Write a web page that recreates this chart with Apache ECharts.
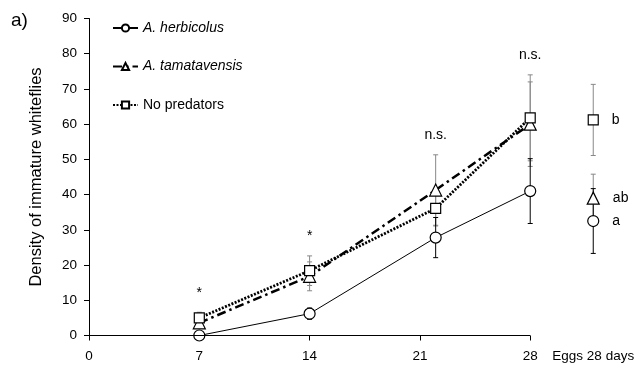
<!DOCTYPE html>
<html>
<head>
<meta charset="utf-8">
<script src="https://cdn.jsdelivr.net/npm/echarts@6/dist/echarts.min.js"></script>
<style>
  html, body { margin: 0; padding: 0; background: #fff; }
  #chart { width: 643px; height: 372px; }
</style>
</head>
<body>
<div id="chart"></div>
<script>
// ---- data ----
const days = [7, 14, 22, 28]
const xTicks = [0, 7, 14, 21, 28]
const totalX = 32
const totalLabel = 'Eggs 28 days'

const herbName = 'A. herbicolus'
const herbMean = [0, 6.2, 27.8, 41.0]
const herbErr = [0, 1.6, 5.7, 9.2]
const herbTotal = 32.5
const herbTotalErr = 9.2

const tamaName = 'A. tamatavensis'
const tamaMean = [3.6, 16.8, 41.3, 60.0]
const tamaErr = [1.0, 4.1, 10.0, 12.0]
const tamaTotal = 39.0
const tamaTotalErr = 6.8

const noneName = 'No predators'
const noneMean = [5.0, 18.4, 36.1, 61.8]
const noneErr = [1.6, 4.2, 5.0, 12.2]
const noneTotal = 61.2
const noneTotalErr = 10.1

const sigLabels = ['*', '*', 'n.s.', 'n.s.']
const groupLetters = { herb: 'a', tama: 'ab', none: 'b' }

const FONT = 'Liberation Sans, Arial, sans-serif'

const chart = echarts.init(document.getElementById('chart'))

const pairs = (ys) => days.map((d, i) => [d, ys[i]])
const errRows = (ys, es) => days.map((d, i) => [d, ys[i], es[i]])

// error bars drawn through the axis scales
const errorBars = (rows, color) => ({
  type: 'custom',
  silent: true,
  z: 1,
  data: rows,
  renderItem: (params, api) => {
    const x = api.value(0)
    const y = api.value(1)
    const e = api.value(2)
    if (!e) return null
    const top = api.coord([x, y + e])
    const bot = api.coord([x, y - e])
    const w = 2.5
    const style = { stroke: color, lineWidth: 1 }
    return {
      type: 'group',
      children: [
        { type: 'line', shape: { x1: top[0], y1: top[1], x2: bot[0], y2: bot[1] }, style },
        { type: 'line', shape: { x1: top[0] - w, y1: top[1], x2: top[0] + w, y2: top[1] }, style },
        { type: 'line', shape: { x1: bot[0] - w, y1: bot[1], x2: bot[0] + w, y2: bot[1] }, style }
      ]
    }
  }
})

const markerStyle = { color: '#fff', borderColor: '#000', borderWidth: 1.2, opacity: 1 }

const totalPoint = (name, y, symbol, size, letter) => ({
  name,
  type: 'scatter',
  symbol,
  symbolSize: size,
  z: 5,
  data: [[totalX, y]],
  itemStyle: markerStyle,
  label: {
    show: true,
    position: 'right',
    distance: 13,
    formatter: letter,
    color: '#000',
    fontSize: 14,
    fontFamily: FONT
  }
})

// significance marks sit a little above the highest error bar
const sigRows = days.map((d, i) => [
  d,
  Math.max(herbMean[i] + herbErr[i], tamaMean[i] + tamaErr[i], noneMean[i] + noneErr[i]) + 5.5
])

chart.setOption({
  animation: false,
  title: {
    text: 'a)',
    left: 6,
    top: 6,
    textStyle: { fontSize: 19, fontWeight: 'normal', color: '#000', fontFamily: FONT }
  },
  grid: { left: 89, right: 34, top: 18.5, bottom: 36.5 },
  legend: {
    orient: 'vertical',
    left: 112,
    top: 21,
    padding: 0,
    itemGap: 24.5,
    itemWidth: 25,
    itemHeight: 9,
    data: [herbName, tamaName, noneName],
    formatter: (n) => (n === noneName ? n : '{i|' + n + '}'),
    textStyle: {
      fontSize: 14,
      color: '#000',
      fontFamily: FONT,
      rich: { i: { fontStyle: 'italic', fontSize: 14, fontFamily: FONT, color: '#000' } }
    }
  },
  xAxis: {
    type: 'value',
    min: 0,
    max: 33,
    splitLine: { show: false },
    axisLine: { show: false },
    axisTick: {
      show: true,
      length: 5,
      customValues: xTicks,
      lineStyle: { color: '#000' }
    },
    axisLabel: {
      customValues: xTicks.concat([totalX]),
      formatter: (v) => (v === totalX ? totalLabel : String(v)),
      margin: 14,
      color: '#000',
      fontSize: 13.5,
      fontFamily: FONT
    }
  },
  yAxis: {
    type: 'value',
    min: 0,
    max: 90,
    interval: 10,
    name: 'Density of immature whiteflies',
    nameLocation: 'middle',
    nameGap: 44,
    nameTextStyle: { fontSize: 16.5, color: '#000', fontFamily: FONT },
    splitLine: { show: false },
    axisLine: { show: true, lineStyle: { color: '#000', width: 1 } },
    axisTick: { show: true, length: 5, lineStyle: { color: '#000' } },
    axisLabel: { margin: 12, color: '#000', fontSize: 13.5, fontFamily: FONT }
  },
  series: [
    errorBars(errRows(tamaMean, tamaErr).concat([[totalX, tamaTotal, tamaTotalErr]]), '#888'),
    errorBars(errRows(noneMean, noneErr).concat([[totalX, noneTotal, noneTotalErr]]), '#888'),
    errorBars(errRows(herbMean, herbErr).concat([[totalX, herbTotal, herbTotalErr]]), '#000'),
    {
      name: herbName,
      type: 'line',
      data: pairs(herbMean),
      symbol: 'circle',
      symbolSize: 11,
      z: 3,
      lineStyle: { color: '#000', width: 1 },
      itemStyle: markerStyle,
      markLine: {
        silent: true,
        symbol: 'none',
        label: { show: false },
        lineStyle: { color: '#000', width: 1, type: 'solid' },
        data: [[{ coord: [0, 0] }, { coord: [xTicks[xTicks.length - 1], 0] }]]
      }
    },
    {
      name: tamaName,
      type: 'line',
      data: pairs(tamaMean),
      symbol: 'triangle',
      symbolSize: 12,
      z: 3,
      lineStyle: { color: '#000', width: 2.5, type: [9, 4, 2.5, 4] },
      itemStyle: markerStyle
    },
    {
      name: noneName,
      type: 'line',
      data: pairs(noneMean),
      symbol: 'rect',
      symbolSize: 10,
      z: 4,
      lineStyle: { color: '#000', width: 2.8, type: [2, 1.5] },
      itemStyle: markerStyle
    },
    totalPoint('herbTotal', herbTotal, 'circle', 11, groupLetters.herb),
    totalPoint('tamaTotal', tamaTotal, 'triangle', 12, groupLetters.tama),
    totalPoint('noneTotal', noneTotal, 'rect', 10, groupLetters.none),
    {
      name: 'sig',
      type: 'scatter',
      symbol: 'circle',
      symbolSize: 1,
      silent: true,
      z: 6,
      itemStyle: { color: 'rgba(0,0,0,0)', opacity: 1 },
      data: sigRows.map((r, i) => ({ value: r, label: { formatter: sigLabels[i] } })),
      label: {
        show: true,
        position: 'inside',
        color: '#000',
        opacity: 1,
        fontSize: 14,
        fontFamily: FONT
      }
    }
  ]
})
</script>
</body>
</html>
